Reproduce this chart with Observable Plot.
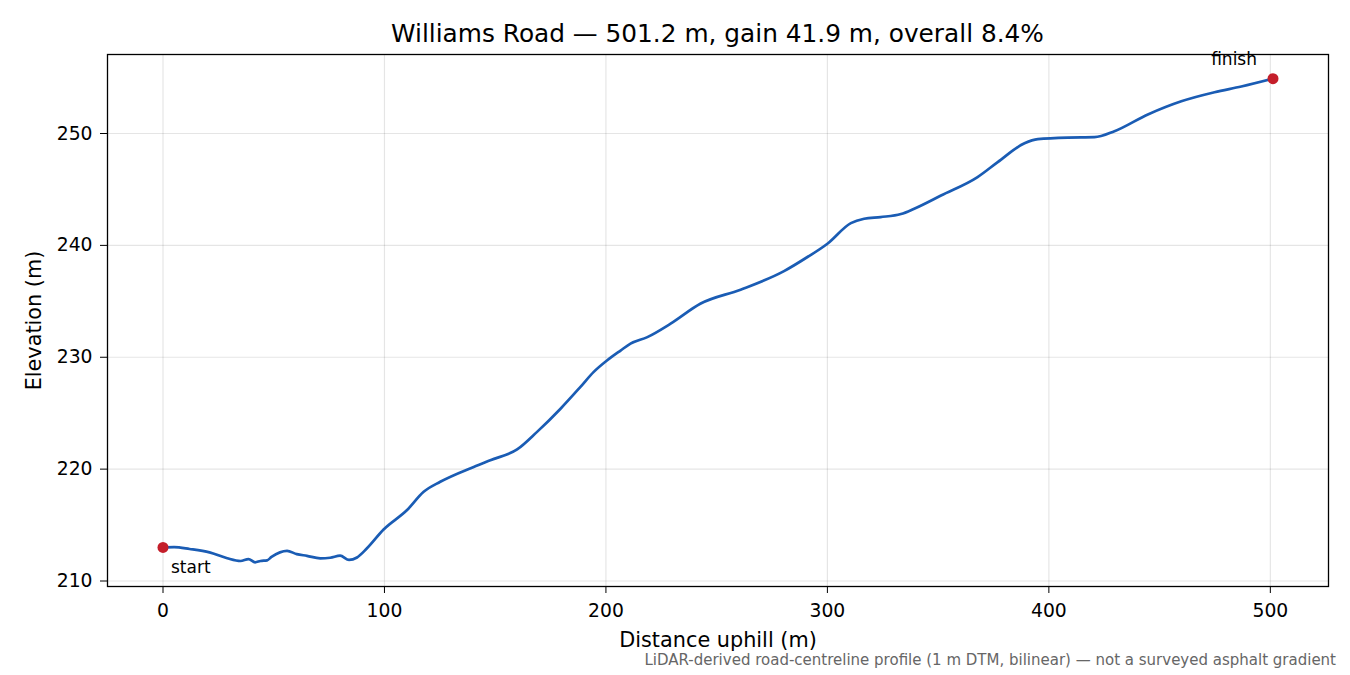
<!DOCTYPE html>
<html><head><meta charset="utf-8">
<script src="https://cdn.jsdelivr.net/npm/d3@7"></script>
<script src="https://cdn.jsdelivr.net/npm/@observablehq/plot@0.6"></script>
<style>
html,body{margin:0;padding:0;background:#fff;}
#wrap{position:relative;width:1350px;height:675px;font-family:"DejaVu Sans",sans-serif;overflow:hidden;background:#fff;}
#title{position:absolute;left:107px;width:1221px;top:19px;text-align:center;font-size:24.8px;line-height:30px;color:#000;z-index:2;}
#chart{position:absolute;left:0;top:44px;z-index:1;}
#caption{position:absolute;right:14px;top:650px;font-size:15px;line-height:20px;color:#666;white-space:nowrap;z-index:2;}
</style></head>
<body>
<div id="wrap">
<div id="title">Williams Road — 501.2 m, gain 41.9 m, overall 8.4%</div>
<div id="chart"></div>
<div id="caption">LiDAR-derived road-centreline profile (1 m DTM, bilinear) — not a surveyed asphalt gradient</div>
</div>
<script>
const distance = [0, 5, 12, 21, 29, 35, 38.6, 41.6, 44, 47, 49, 56, 60.4, 65, 71, 75.5, 80, 84, 87.6, 92, 99.6, 110.2, 117.7, 125.2, 140.3, 147.8, 159.9, 168.9, 179.5, 188.5, 194.5, 200.6, 206.6, 211.1, 218.7, 229.2, 242.8, 260.8, 280.4, 291, 300, 310.6, 316.6, 324, 333.2, 339.2, 351.3, 367.8, 376.9, 389, 395, 408.5, 420.6, 429.6, 444.7, 459.8, 474.8, 486.9, 501.2];
const elevation = [213.0, 213.02, 212.86, 212.56, 212.03, 211.79, 211.96, 211.67, 211.79, 211.85, 212.15, 212.7, 212.4, 212.25, 212.03, 212.08, 212.26, 211.88, 212.1, 212.9, 214.6, 216.34, 217.97, 218.87, 220.2, 220.8, 221.76, 223.33, 225.4, 227.35, 228.69, 229.73, 230.6, 231.22, 231.8, 233.0, 234.8, 236.04, 237.7, 238.96, 240.15, 241.99, 242.38, 242.53, 242.8, 243.28, 244.46, 246.1, 247.44, 249.13, 249.5, 249.64, 249.67, 250.2, 251.7, 252.88, 253.69, 254.2, 254.9];
const xTicks = [0, 100, 200, 300, 400, 500];
const yTicks = [210, 220, 230, 240, 250];
const endLabels = ["start", "finish"];
const xLabel = "Distance uphill (m)";
const yLabel = "Elevation (m)";

const profile = distance.map((d, i) => ({d, e: elevation[i]}));
const n = distance.length;
const startPt = [{d: distance[0], e: elevation[0], label: endLabels[0]}];
const finishPt = [{d: distance[n - 1], e: elevation[n - 1], label: endLabels[1]}];
const span = distance[n - 1] - distance[0];
const eMin = d3.min(elevation), eMax = d3.max(elevation);
const ySpan = eMax - eMin;

const chart = Plot.plot({
  width: 1350,
  height: 631,
  marginTop: 10,
  marginBottom: 89,
  marginLeft: 107,
  marginRight: 22,
  style: {fontFamily: "DejaVu Sans, sans-serif", fontSize: "18.75px", color: "#000", background: "transparent", overflow: "visible"},
  x: {domain: [distance[0] - 0.05 * span, distance[n - 1] + 0.05 * span]},
  y: {domain: [eMin - 0.05 * ySpan, eMax + 0.05 * ySpan]},
  marks: [
    Plot.gridX(xTicks, {stroke: "#000", strokeOpacity: 0.1, strokeWidth: 1.2}),
    Plot.gridY(yTicks, {stroke: "#000", strokeOpacity: 0.1, strokeWidth: 1.2}),
    Plot.line(profile, {x: "d", y: "e", stroke: "#1a5cb4", strokeWidth: 2.7, curve: "monotone-x"}),
    Plot.dot([...startPt, ...finishPt], {x: "d", y: "e", r: 5.5, fill: "#c41e2a", stroke: "none"}),
    Plot.text(startPt, {x: "d", y: "e", text: "label", dx: 8, dy: 20, textAnchor: "start", fontSize: 17, fill: "#000"}),
    Plot.text(finishPt, {x: "d", y: "e", text: "label", dx: -16, dy: -19, textAnchor: "end", fontSize: 17, fill: "#000"}),
    Plot.frame({stroke: "#000", strokeWidth: 1.3}),
    Plot.axisX(xTicks, {tickSize: 7, tickPadding: 10, label: null, fontSize: 18.75}),
    Plot.axisY(yTicks, {tickSize: 7, tickPadding: 8, label: null, fontSize: 18.75}),
    Plot.text([xLabel], {frameAnchor: "bottom", dy: 60, lineAnchor: "bottom", textAnchor: "middle", fontSize: 20.8, fill: "#000"}),
    Plot.text([yLabel], {frameAnchor: "left", dx: -81, rotate: -90, lineAnchor: "top", textAnchor: "middle", fontSize: 20.8, fill: "#000"})
  ]
});
document.getElementById("chart").appendChild(chart);
</script>
</body></html>
